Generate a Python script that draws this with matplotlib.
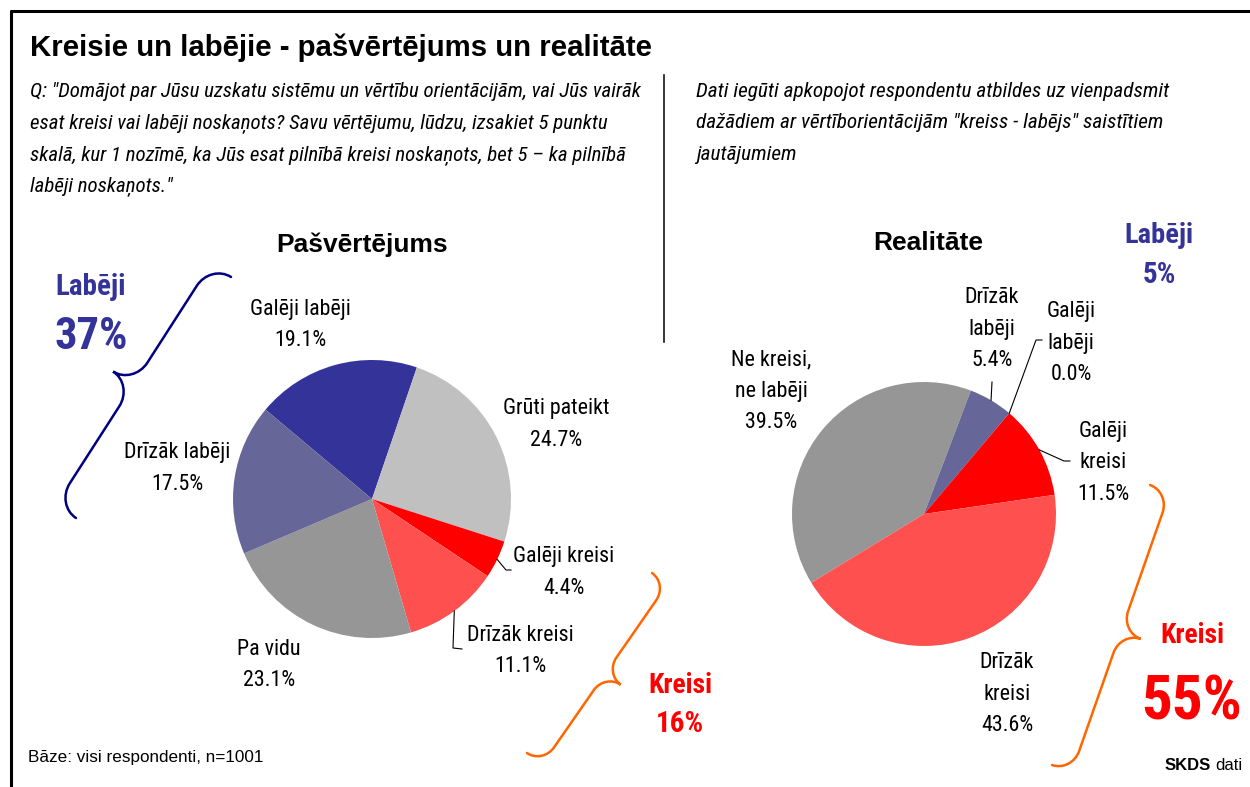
import numpy as np
import matplotlib
matplotlib.use("Agg")
import matplotlib.pyplot as plt
from matplotlib.path import Path
from matplotlib.patches import PathPatch

# dati
left_labels = ["Galēji labēji", "Grūti pateikt", "Galēji kreisi", "Drīzāk kreisi", "Pa vidu", "Drīzāk labēji"]
left_values = [19.1, 24.7, 4.4, 11.1, 23.1, 17.5]
left_colors = ["#333399", "#C0C0C0", "#FF0000", "#FF5050", "#969696", "#666699"]

right_labels = ["Ne kreisi,\nne labēji", "Drīzāk\nlabēji", "Galēji\nlabēji", "Galēji\nkreisi", "Drīzāk\nkreisi"]
right_values = [39.5, 5.4, 0.0, 11.5, 43.6]
right_colors = ["#969696", "#666699", "#333399", "#FF0000", "#FF5050"]

group_names = ["Labēji", "Kreisi"]
left_groups = [37, 16]    # pašvērtējums
right_groups = [5, 55]    # realitāte

title = "Kreisie un labējie - pašvērtējums un realitāte"
question = ['Q: "Domājot par Jūsu uzskatu sistēmu un vērtību orientācijām, vai Jūs vairāk',
            'esat kreisi vai labēji noskaņots? Savu vērtējumu, lūdzu, izsakiet 5 punktu',
            'skalā, kur 1 nozīmē, ka Jūs esat pilnībā kreisi noskaņots, bet 5 – ka pilnībā',
            'labēji noskaņots."']
note = ["Dati iegūti apkopojot respondentu atbildes uz vienpadsmit",
        'dažādiem ar vērtīborientācijām "kreiss - labējs" saistītiem',
        "jautājumiem"]

# izkārtojums (pikseļos)
W, H = 1250, 787
BLUE = "#333399"
RED = "#FF0000"
NARROW = ["Roboto Condensed", "DejaVu Sans"]
REG = ["Liberation Sans", "DejaVu Sans"]

fig = plt.figure(figsize=(W / 100, H / 100), dpi=100)
fig.patch.set_facecolor("white")


def pie_ax(cx, cy, r):
    return fig.add_axes([(cx - r) / W, 1 - (cy + r) / H, 2 * r / W, 2 * r / H])


L_C, L_R = (372, 499), 139
R_C, R_R = (924, 514), 132
L_START = -50.0     # pirmās daļas mala, grādi pulksteņrādītāja virzienā no augšas
R_START = -121.4

axl = pie_ax(L_C[0], L_C[1], L_R)
axl.pie(left_values, colors=left_colors, startangle=90 - L_START,
        counterclock=False, wedgeprops=dict(linewidth=0))
axl.set_xlim(-1, 1); axl.set_ylim(-1, 1)

axr = pie_ax(R_C[0], R_C[1], R_R)
axr.pie(right_values, colors=right_colors, startangle=90 - R_START,
        counterclock=False, wedgeprops=dict(linewidth=0))
axr.set_xlim(-1, 1); axr.set_ylim(-1, 1)

ov = fig.add_axes([0, 0, 1, 1])
ov.set_xlim(0, W); ov.set_ylim(H, 0)
ov.axis("off")

# rāmis
ov.plot([10, W], [11, 11], color="black", lw=2.2, solid_capstyle="butt")
ov.plot([11, 11], [10, H], color="black", lw=2.2, solid_capstyle="butt")
ov.plot([664, 664], [75, 342], color="black", lw=1.1)

ov.text(30, 56, title, fontsize=21.2, fontweight="bold", family=REG, va="baseline")
for i, s in enumerate(question):
    ov.text(30, 97 + i * 31.3, s, fontsize=15, style="italic", family=NARROW, va="baseline")
for i, s in enumerate(note):
    ov.text(696, 97 + i * 31.3, s, fontsize=15.3, style="italic", family=NARROW, va="baseline")

ov.text(362, 252, "Pašvērtējums", fontsize=19, fontweight="bold", family=REG, ha="center", va="baseline")
ov.text(928, 250, "Realitāte", fontsize=19, fontweight="bold", family=REG, ha="center", va="baseline")


def put_lines(x, y, lines, pitch=31.5, **kw):
    for i, s in enumerate(lines):
        ov.text(x, y + i * pitch, s, ha="center", va="baseline", **kw)


def rim_point(values, i, start_cw, c, r):
    tot = sum(values)
    a = np.deg2rad(start_cw + (sum(values[:i]) + values[i] / 2) / tot * 360)
    return c[0] + r * np.sin(a), c[1] - r * np.cos(a)


lab_kw = dict(fontsize=15.8, family=NARROW, color="black")

left_pos = [(300, 315), (556, 414), (564, 562), (520, 641), (269, 655), (177, 458)]
for lab, v, (x, y) in zip(left_labels, left_values, left_pos):
    put_lines(x, y, lab.split("\n") + [f"{v:.1f}%"], **lab_kw)

right_pos = [(771, 365), (992, 303), (1071, 317), (1103, 437), (1007, 668)]
for lab, v, (x, y) in zip(right_labels, right_values, right_pos):
    put_lines(x, y, lab.split("\n") + [f"{v:.1f}%"], **lab_kw)

# vadlīnijas
left_leaders = {2: [(506, 570), (511, 570)], 3: [(453, 648), (462, 649)]}
right_leaders = {1: [(992, 382)], 2: [(1036, 340), (1042, 340)], 3: [(1064, 461), (1070, 461)]}
for i, pts in left_leaders.items():
    p = [rim_point(left_values, i, L_START, L_C, L_R)] + pts
    ov.plot([q[0] for q in p], [q[1] for q in p], color="black", lw=0.8)
for i, pts in right_leaders.items():
    p = [rim_point(right_values, i, R_START, R_C, R_R)] + pts
    ov.plot([q[0] for q in p], [q[1] for q in p], color="black", lw=0.8)


def brace(p0, p1, depth, toward, color, hook=25, lw=1.8):
    p0 = np.array(p0, float); p1 = np.array(p1, float)
    L = np.linalg.norm(p1 - p0)
    e = (p1 - p0) / L
    n = np.array([-e[1], e[0]])
    if np.dot(n, np.array(toward) - (p0 + p1) / 2) < 0:
        n = -n
    d, h, k, m = depth, hook, 0.55, L / 2
    loc = [(0, 0), (0, k * d), (h - k * h, d), (h, d),
           (m - h, d),
           (m - h + k * h, d), (m, 2 * d - k * d), (m, 2 * d),
           (m, 2 * d - k * d), (m + h - k * h, d), (m + h, d),
           (L - h, d),
           (L - h + k * h, d), (L, k * d), (L, 0)]
    codes = [Path.MOVETO] + [Path.CURVE4] * 3 + [Path.LINETO] + [Path.CURVE4] * 6 + \
            [Path.LINETO] + [Path.CURVE4] * 3
    verts = [p0 + s * e + u * n for s, u in loc]
    ov.add_patch(PathPatch(Path(verts, codes), fill=False, edgecolor=color, lw=lw,
                           capstyle="round"))


brace((231, 277), (76, 518), 24, (91, 320), "#000080", hook=26)
brace((652, 573), (527, 753), 19, (680, 700), "#FF6600", hook=20)
brace((1150, 485), (1052, 765), 21, (1192, 670), "#FF6600", hook=22)

# kopsummas
big = dict(fontweight="bold", family=NARROW, ha="center", va="baseline")
ov.text(91, 295, group_names[0], fontsize=21, color=BLUE, **big)
ov.text(91, 349, f"{left_groups[0]}%", fontsize=32, color=BLUE, **big)
ov.text(680, 693, group_names[1], fontsize=20, color=RED, **big)
ov.text(680, 732, f"{left_groups[1]}%", fontsize=21, color=RED, **big)
ov.text(1159, 243, group_names[0], fontsize=20.5, color=BLUE, **big)
ov.text(1159, 283, f"{right_groups[0]}%", fontsize=21, color=BLUE, **big)
ov.text(1192, 643, group_names[1], fontsize=20, color=RED, **big)
ov.text(1192, 720, f"{right_groups[1]}%", fontsize=44, color=RED, **big)

ov.text(28, 762, "Bāze: visi respondenti, n=1001", fontsize=12.3, family=REG, va="baseline")
ov.text(1165, 770, "SKDS", fontsize=12, fontweight="bold", family=REG, va="baseline")
ov.text(1215, 770, "dati", fontsize=12, family=REG, va="baseline")

fig.savefig("out.png", dpi=100, facecolor="white")
